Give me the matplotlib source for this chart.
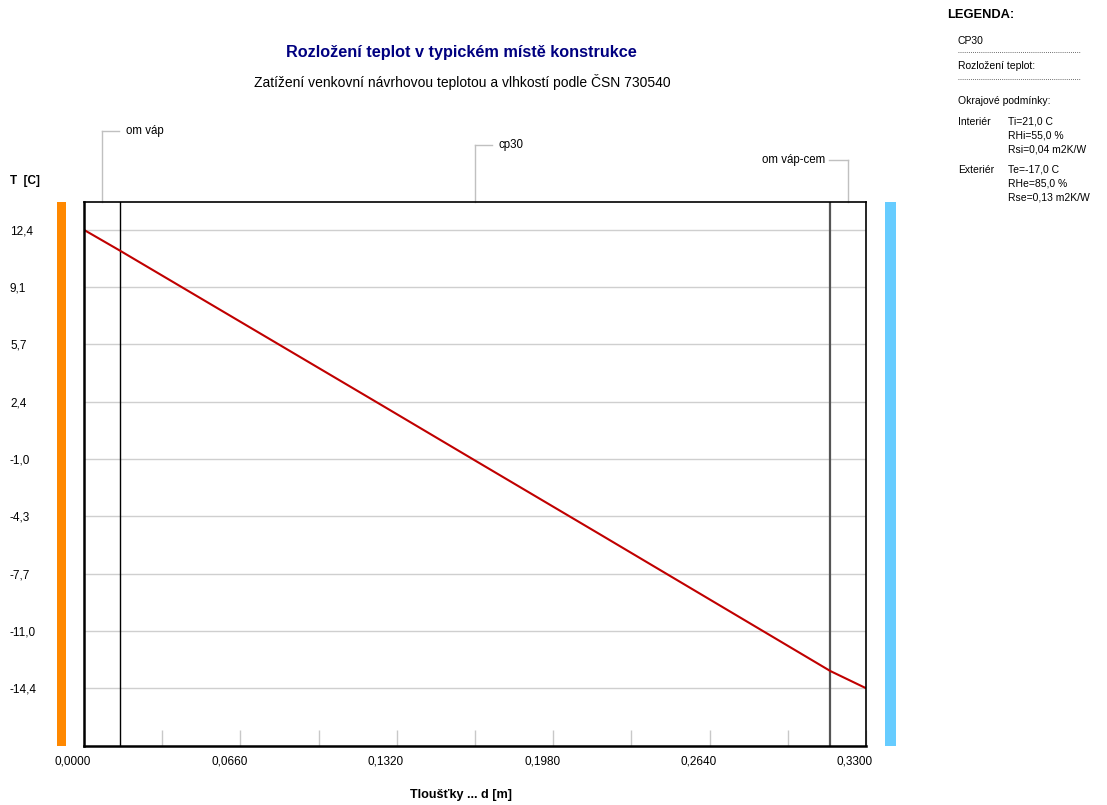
import matplotlib
matplotlib.use("Agg")
import matplotlib.pyplot as plt
from matplotlib.patches import Rectangle
from matplotlib.lines import Line2D
import matplotlib.transforms as mtransforms
import numpy as np

plt.rcParams['font.family'] = ['Liberation Sans', 'DejaVu Sans']

# ---- data ----
layer_names = ["om váp", "cp30", "om váp-cem"]
layer_thick = [0.015, 0.300, 0.015]
depth = [0.0, 0.015, 0.125, 0.1658, 0.2177, 0.315, 0.330]
temp = [12.4, 11.2, 2.2, -1.15, -5.4, -13.4, -14.4]
y_ticks = [12.4, 9.05, 5.7, 2.35, -1.0, -4.35, -7.7, -11.05, -14.4]
y_tick_labels = ["12,4", "9,1", "5,7", "2,4", "-1,0", "-4,3", "-7,7", "-11,0", "-14,4"]
x_major = [0.0, 0.066, 0.132, 0.198, 0.264, 0.330]
x_major_labels = ["0,0000", "0,0660", "0,1320", "0,1980", "0,2640", "0,3300"]
x_minor = [0.033, 0.099, 0.165, 0.231, 0.297]

W, H = 1107, 805
fig = plt.figure(figsize=(W / 100, H / 100), dpi=100)
fig.patch.set_facecolor('white')

def fx(px):
    return px / W

def fy(py):
    return 1 - py / H

ax = fig.add_axes([fx(84), fy(746), fx(866) - fx(84), fy(202) - fy(746)])
ax.set_xlim(0, 0.33)
ax.set_ylim(-17.78, 14.03)

# grid
for v in y_ticks:
    ax.axhline(v, color='#cfcfcf', lw=1.0, zorder=1)

# layer boundaries
bounds = np.cumsum(layer_thick)
ax.axvline(bounds[0], color='black', lw=1.0, zorder=2)
ax.axvline(bounds[1], color='#555555', lw=1.6, zorder=2)

# temperature line
ax.plot(depth, temp, color='#c00000', lw=1.5, zorder=3)

# ticks
ax.set_yticks(y_ticks)
ax.set_yticklabels(y_tick_labels)
ax.tick_params(axis='y', length=0, pad=(84 - 10) * 0.72, labelsize=8.5)
for lab in ax.get_yticklabels():
    lab.set_horizontalalignment('left')

ax.set_xticks(x_major)
ax.set_xticklabels(x_major_labels)
ax.set_xticks(x_minor, minor=True)
ax.tick_params(axis='x', which='both', direction='in', length=11.5, width=1.0,
               color='#c8c8c8', pad=-3, labelsize=8.5)
offset = mtransforms.ScaledTranslation(-11 / 100, -14 / 100, fig.dpi_scale_trans)
for lab in ax.get_xticklabels():
    lab.set_transform(lab.get_transform() + offset)

for side in ['left', 'bottom']:
    ax.spines[side].set_linewidth(1.8)
for side in ['top', 'right']:
    ax.spines[side].set_linewidth(1.2)
for s in ax.spines.values():
    s.set_zorder(5)

# colored side bars
ax.add_patch(Rectangle((-0.0345, 0), 0.0118, 1, transform=ax.transAxes,
                       color='#ff8800', clip_on=False, lw=0))
ax.add_patch(Rectangle((1.0243, 0), 0.0141, 1, transform=ax.transAxes,
                       color='#66ccff', clip_on=False, lw=0))

# layer labels with leaders
starts = np.concatenate([[0], bounds[:-1]])
centers = starts + np.array(layer_thick) / 2
label_h = [1.1305, 1.1048, 1.0772]
trans = mtransforms.blended_transform_factory(ax.transData, ax.transAxes)
sides = ['right', 'right', 'left']
px_per_unit = 782 / 0.33
for name, c, h, side in zip(layer_names, centers, label_h, sides):
    dd = 17 / px_per_unit
    tt = 24 / px_per_unit
    ax.plot([c, c], [1.0, h], color='#c0c0c0', lw=1, transform=trans, clip_on=False)
    if side == 'right':
        ax.plot([c, c + dd], [h, h], color='#c0c0c0', lw=1, transform=trans, clip_on=False)
        ax.text(c + tt, h, name, transform=trans, ha='left', va='center', fontsize=8.3)
    else:
        ax.plot([c - 19 / px_per_unit, c], [h, h], color='#c0c0c0', lw=1, transform=trans, clip_on=False)
        ax.text(c - 23 / px_per_unit, h, name, transform=trans, ha='right', va='center', fontsize=8.3)

# titles and axis labels
fig.text(fx(461), fy(52), "Rozložení teplot v typickém místě konstrukce", ha='center', va='center',
         fontsize=11.7, fontweight='bold', color='#000080')
fig.text(fx(462), fy(82), "Zatížení venkovní návrhovou teplotou a vlhkostí podle ČSN 730540",
         ha='center', va='center', fontsize=10)
fig.text(fx(10), fy(181), "T  [C]", ha='left', va='center', fontsize=8.5, fontweight='bold')
fig.text(fx(461), fy(795), "Tloušťky ... d [m]", ha='center', va='center', fontsize=9.1, fontweight='bold')

# legend panel
fig.text(fx(947), fy(15), "LEGENDA:", ha='left', va='center', fontsize=9.3, fontweight='bold')
leg_items = [
    (958, 41, "CP30"),
    (958, 66, "Rozložení teplot:"),
    (958, 101, "Okrajové podmínky:"),
    (958, 122, "Interiér"),
    (1008, 122, "Ti=21,0 C"),
    (1008, 135, "RHi=55,0 %"),
    (1008, 149, "Rsi=0,04 m2K/W"),
    (958, 170, "Exteriér"),
    (1008, 170, "Te=-17,0 C"),
    (1008, 184, "RHe=85,0 %"),
    (1008, 198, "Rse=0,13 m2K/W"),
]
for x, y, s in leg_items:
    fig.text(fx(x), fy(y), s, ha='left', va='center', fontsize=7.5)
for y in (52, 79):
    fig.add_artist(Line2D([fx(958), fx(1080)], [fy(y), fy(y)], color='#404040', lw=0.6,
                          linestyle=(0, (1, 1.5)), transform=fig.transFigure))

fig.savefig("out.png", dpi=100)
